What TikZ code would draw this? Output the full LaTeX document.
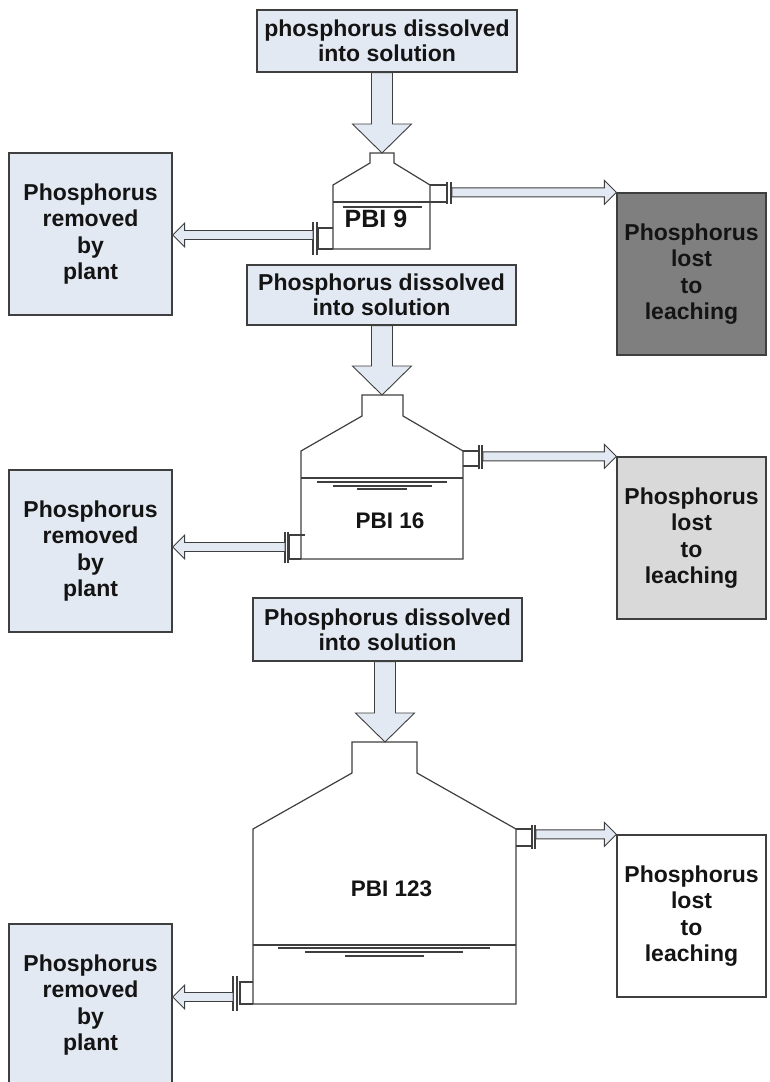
\documentclass[tikz,border=0pt]{standalone}
\usepackage{fontspec}
\setmainfont{Liberation Sans}
\usetikzlibrary{calc}

\definecolor{boxfill}{HTML}{E3E9F3}
\definecolor{edge}{HTML}{3F3F3F}
\definecolor{leachdark}{HTML}{7F7F7F}
\definecolor{leachlight}{HTML}{D9D9D9}
\definecolor{ink}{HTML}{141414}

\tikzset{
  label box/.style={draw=edge, line width=1.3pt, fill=boxfill, text=ink, align=center,
    inner sep=0pt, font=\bfseries\fontsize{23pt}{26.5pt}\selectfont},
  source box/.style={label box, font=\bfseries\fontsize{23pt}{25pt}\selectfont},
  sink box/.style={label box, minimum width=163pt, minimum height=162pt},
  leach box/.style={label box, minimum width=149pt, minimum height=162pt},
  vessel/.style={draw=edge, line width=1.2pt, line join=miter},
  waterline/.style={draw=edge, line width=1.1pt},
  fatarrow/.style={draw=edge, line width=0.9pt, fill=boxfill, line join=miter},
  tank label/.style={inner sep=0pt, text=ink, font=\bfseries\fontsize{22.5pt}{25pt}\selectfont},
}

% horizontal block arrow from a pipe flange to a box; the tip sits on #2
\newcommand\pipearrow[2]{%
  \draw[fatarrow] let \p1=#1, \p2=#2, \n1={ifthenelse(\x2>\x1,12,-12)} in
    (\x1,{\y2+4.5pt}) -- ({\x2-(\n1)*1pt},{\y2+4.5pt}) -- ({\x2-(\n1)*1pt},{\y2+12pt})
    -- (\x2,\y2) -- ({\x2-(\n1)*1pt},{\y2-12pt}) -- ({\x2-(\n1)*1pt},{\y2-4.5pt})
    -- (\x1,{\y2-4.5pt}) -- cycle;}

% vertical block arrow from a source box down to a vessel neck
\newcommand\feedarrow[2]{%
  \draw[fatarrow] let \p1=#1, \p2=#2 in
    ({\x2-10.5pt},\y1) -- ({\x2-10.5pt},{\y2+29pt}) -- ({\x2-29.5pt},{\y2+29pt})
    -- (\x2,\y2) -- ({\x2+29.5pt},{\y2+29pt}) -- ({\x2+10.5pt},{\y2+29pt})
    -- ({\x2+10.5pt},\y1) -- cycle;}

\begin{document}
\begin{tikzpicture}[x=1pt,y=-1pt]
\fill[white] (0,0) rectangle (769,1082);
\useasboundingbox (0,0) rectangle (769,1082);

% ---------------- stage 1 : PBI 9 ----------------
\node[source box, minimum width=260pt, minimum height=62pt] (top1) at (387,41)
  {phosphorus dissolved\\into solution};
\node[sink box] (plant1) at (90.5,234) {Phosphorus\\removed\\by\\plant};
\node[leach box, fill=leachdark] (leach1) at (691.5,274) {Phosphorus\\lost\\to\\leaching};

\draw[vessel] (333,249) -- (333,185) -- (370,163) -- (370,153) -- (394,153) -- (394,163)
  -- (430,185) -- (430,249) -- cycle;
\draw[vessel] (333,202) -- (430,202);
\draw[vessel] (430,185) -- (447,185) -- (447,202) -- (430,202);
\draw[vessel] (447,182) -- (447,204) (451,182) -- (451,204);
\draw[vessel] (333,228) -- (318,228) -- (318,249) -- (333,249);
\draw[vessel] (317,222) -- (317,255) (313,222) -- (313,255);
\draw[waterline] (343,207) -- (422,207);
\node[tank label, font=\bfseries\fontsize{25pt}{27pt}\selectfont] (pbi9) at (376,219) {PBI 9};
\coordinate (neck1) at (382,153);
\coordinate (spill1) at (452,193);
\coordinate (drain1) at (313,235);

\feedarrow{(top1.south)}{(neck1)}
\pipearrow{(spill1)}{(leach1.north west)}
\pipearrow{(drain1)}{(plant1.east |- drain1)}

% ---------------- stage 2 : PBI 16 ----------------
\node[source box, minimum width=269pt, minimum height=60pt] (top2) at (381.5,295)
  {Phosphorus dissolved\\into solution};
\node[sink box] (plant2) at (90.5,551) {Phosphorus\\removed\\by\\plant};
\node[leach box, fill=leachlight] (leach2) at (691.5,538) {Phosphorus\\lost\\to\\leaching};

\draw[vessel] (301,559) -- (301,451) -- (362,416) -- (362,395) -- (403,395) -- (403,416)
  -- (463,451) -- (463,559) -- cycle;
\draw[vessel] (301,478) -- (463,478);
\draw[vessel] (463,451) -- (479,451) -- (479,466) -- (463,466);
\draw[vessel] (479,445) -- (479,469) (482,445) -- (482,469);
\draw[vessel] (305,535) -- (289,535) -- (289,559) -- (301,559);
\draw[vessel] (288,532) -- (288,563) (285,532) -- (285,563);
\draw[waterline] (317,482) -- (447,482) (333,486) -- (432,486) (357,489) -- (407,489);
\node[tank label] (pbi16) at (390,520.5) {PBI 16};
\coordinate (neck2) at (382,395);
\coordinate (spill2) at (483,457);
\coordinate (drain2) at (285,547);

\feedarrow{(top2.south)}{(neck2)}
\pipearrow{(spill2)}{(leach2.north west)}
\pipearrow{(drain2)}{(plant2.east |- drain2)}

% ---------------- stage 3 : PBI 123 ----------------
\node[source box, minimum width=269pt, minimum height=63pt] (top3) at (387.5,629.5)
  {Phosphorus dissolved\\into solution};
\node[sink box] (plant3) at (90.5,1005) {Phosphorus\\removed\\by\\plant};
\node[leach box, fill=white] (leach3) at (691.5,916) {Phosphorus\\lost\\to\\leaching};

\draw[vessel] (253,1004) -- (253,829) -- (352,773) -- (352,742) -- (417,742) -- (417,773)
  -- (516,829) -- (516,1004) -- cycle;
\draw[vessel] (253,945) -- (516,945);
\draw[vessel] (516,829) -- (532,829) -- (532,846) -- (516,846);
\draw[vessel] (532,825) -- (532,849) (535,825) -- (535,849);
\draw[vessel] (253,982) -- (240,982) -- (240,1004) -- (253,1004);
\draw[vessel] (237,976) -- (237,1011) (233,976) -- (233,1011);
\draw[waterline] (278,948) -- (490,948) (305,952) -- (463,952) (345,956) -- (424,956);
\node[tank label] (pbi123) at (391.5,888.5) {PBI 123};
\coordinate (neck3) at (385,742);
\coordinate (spill3) at (536,835);
\coordinate (drain3) at (233,997);

\feedarrow{(top3.south)}{(neck3)}
\pipearrow{(spill3)}{(leach3.north west)}
\pipearrow{(drain3)}{(plant3.east |- drain3)}
\end{tikzpicture}
\end{document}
